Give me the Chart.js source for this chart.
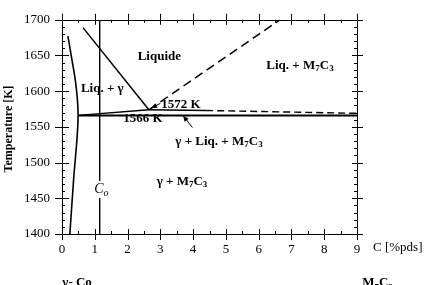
<!DOCTYPE html>
<html>
<head>
<meta charset="utf-8">
<script src="https://cdn.jsdelivr.net/npm/chart.js@4"></script>
<style>
  html, body { margin: 0; background: #fff; }
</style>
</head>
<body>
<canvas id="chart" width="437" height="285"></canvas>
<script>
const FONT = '"Liberation Serif", "DejaVu Serif", serif';

/* axes */
const xMin = 0, xMax = 9;
const tMin = 1400, tMax = 1700;

/* phase boundaries (C in %pds, T in K) */
const gammaSolvusC = [0.18, 0.30, 0.41, 0.47, 0.49, 0.46, 0.36, 0.24];
const gammaSolvusT = [1677, 1645, 1614, 1588, 1566, 1535, 1480, 1400];
const gammaLiquidusC = [0.64, 2.65];
const gammaLiquidusT = [1689, 1574];
const carbideLiquidusC = [2.65, 6.65];
const carbideLiquidusT = [1574, 1700];
const eutecticC = [0.49, 9];
const eutecticT = [1566, 1566];
const tieC = [0.49, 2.65];
const tieT = [1566, 1574];
const upperC = [2.65, 4.4, 9];
const upperT = [1574, 1573, 1569];
const coC = [1.15, 1.15];
const coT = [1400, 1700];

/* pointer arrows (tail -> head) */
const pointer1C = [3.98, 3.69];
const pointer1T = [1549, 1566];
const pointer2C = [3.0, 2.72];
const pointer2T = [1583, 1576];

/* region labels, "_x" = subscript */
const regionLabels = ["Liquide", "Liq. + \u03b3", "Liq. + M_7C_3", "1572 K", "1566 K", "\u03b3 + Liq. + M_7C_3", "\u03b3 + M_7C_3"];
const regionC = [2.97, 1.23, 7.26, 3.63, 2.47, 4.79, 3.66];
const regionT = [1648, 1604, 1636, 1581, 1561, 1530, 1474];

/* bottom phase names */
const phaseNames = ["\u03b3- Co", "M_7C_3"];
const phaseC = [0.46, 9.63];

function pts(cs, ts) {
  return cs.map((c, i) => ({ x: c, y: ts[i] }));
}

function line(cs, ts, width, dash) {
  return {
    data: pts(cs, ts),
    showLine: true,
    borderColor: "#000",
    borderWidth: width,
    borderDash: dash || [],
    pointRadius: 0,
    fill: false,
    tension: 0
  };
}

const solvus = line(gammaSolvusC, gammaSolvusT, 1.6);
solvus.tension = 0.35;

const upper = line(upperC, upperT, 1.4);
upper.segment = { borderDash: c => c.p0DataIndex === 0 ? [] : [7, 4] };

const datasets = [
  solvus,
  line(gammaLiquidusC, gammaLiquidusT, 1.5),
  line(carbideLiquidusC, carbideLiquidusT, 1.5, [9, 5]),
  line(eutecticC, eutecticT, 2),
  line(tieC, tieT, 1.3),
  upper,
  line(coC, coT, 1.4),
  line(pointer1C, pointer1T, 1),
  line(pointer2C, pointer2T, 1)
];
const arrowSets = [7, 8];

function parseRich(str) {
  const parts = [];
  let i = 0;
  while (i < str.length) {
    if (str[i] === "_") {
      parts.push({ t: str[i + 1], sub: true });
      i += 2;
    } else {
      let j = i;
      while (j < str.length && str[j] !== "_") j++;
      parts.push({ t: str.slice(i, j), sub: false });
      i = j;
    }
  }
  return parts;
}

function richText(ctx, str, x, y, size, style) {
  const parts = parseRich(str);
  const fMain = `${style} ${size}px ${FONT}`;
  const fSub = `${style} ${Math.round(size * 0.72)}px ${FONT}`;
  let w = 0;
  parts.forEach(p => {
    ctx.font = p.sub ? fSub : fMain;
    p.w = ctx.measureText(p.t).width;
    w += p.w;
  });
  let cx = x - w / 2;
  ctx.textAlign = "left";
  parts.forEach(p => {
    ctx.font = p.sub ? fSub : fMain;
    ctx.fillText(p.t, cx, p.sub ? y + size * 0.28 : y);
    cx += p.w;
  });
  return w;
}

const decor = {
  id: "decor",
  afterDatasetsDraw(chart) {
    const ctx = chart.ctx;
    const a = chart.chartArea;
    const xs = chart.scales.x, ys = chart.scales.y;
    ctx.save();
    ctx.fillStyle = "#000";
    ctx.strokeStyle = "#000";

    // arrow heads
    arrowSets.forEach(di => {
      const p = chart.getDatasetMeta(di).data;
      const h = p[p.length - 1], t = p[p.length - 2];
      const ang = Math.atan2(h.y - t.y, h.x - t.x);
      ctx.beginPath();
      ctx.moveTo(h.x, h.y);
      ctx.lineTo(h.x - 6 * Math.cos(ang) + 2.5 * Math.sin(ang), h.y - 6 * Math.sin(ang) - 2.5 * Math.cos(ang));
      ctx.lineTo(h.x - 6 * Math.cos(ang) - 2.5 * Math.sin(ang), h.y - 6 * Math.sin(ang) + 2.5 * Math.cos(ang));
      ctx.closePath();
      ctx.fill();
    });

    // frame
    ctx.lineWidth = 1;
    ctx.strokeRect(Math.round(a.left) + 0.5, Math.round(a.top) + 0.5,
      Math.round(a.right - a.left), Math.round(a.bottom - a.top));

    // ticks on all four sides
    ctx.beginPath();
    for (let v = xMin; v <= xMax + 1e-9; v += 0.5) {
      const px = Math.round(xs.getPixelForValue(v)) + 0.5;
      const major = Math.abs(v - Math.round(v)) < 1e-9;
      ctx.moveTo(px, a.bottom - (major ? 5 : 3));
      ctx.lineTo(px, a.bottom + (major ? 6 : 0));
      ctx.moveTo(px, a.top - (major ? 6 : 0));
      ctx.lineTo(px, a.top + (major ? 5 : 3));
    }
    for (let t = tMin; t <= tMax; t += 10) {
      const py = Math.round(ys.getPixelForValue(t)) + 0.5;
      const major = t % 50 === 0;
      ctx.moveTo(a.left - (major ? 7 : 0), py);
      ctx.lineTo(a.left + (major ? 7 : 3), py);
      ctx.moveTo(a.right - (major ? 5 : 3), py);
      ctx.lineTo(a.right + (major ? 6 : 0), py);
    }
    ctx.stroke();

    // region labels
    ctx.textBaseline = "middle";
    regionLabels.forEach((s, i) => {
      richText(ctx, s, xs.getPixelForValue(regionC[i]), ys.getPixelForValue(regionT[i]), 13, "bold");
    });

    // C_o label over the vertical line
    const coX = xs.getPixelForValue(1.2), coY = ys.getPixelForValue(1463);
    ctx.fillStyle = "#fff";
    ctx.fillRect(coX - 9, coY - 8, 18, 17);
    ctx.fillStyle = "#000";
    richText(ctx, "C_o", coX, coY, 14, "italic");

    // axis titles
    ctx.font = `13px ${FONT}`;
    ctx.textAlign = "left";
    ctx.textBaseline = "middle";
    ctx.fillText("C [%pds]", a.right + 16, a.bottom + 14);

    ctx.save();
    ctx.translate(9, (a.top + a.bottom) / 2 + 2);
    ctx.rotate(-Math.PI / 2);
    ctx.font = `bold 12px ${FONT}`;
    ctx.textAlign = "center";
    ctx.fillText("Temperature [K]", 0, 0);
    ctx.restore();

    // phase names under the axis (cut by the edge)
    ctx.textBaseline = "alphabetic";
    phaseNames.forEach((s, i) => {
      richText(ctx, s, xs.getPixelForValue(phaseC[i]), a.bottom + 52, 13, "bold");
    });
    ctx.restore();
  }
};

new Chart(document.getElementById("chart"), {
  type: "scatter",
  data: { datasets },
  options: {
    responsive: false,
    animation: false,
    devicePixelRatio: 1,
    layout: { padding: { left: 0, right: 80, top: 15, bottom: 0 } },
    plugins: { legend: { display: false }, tooltip: { enabled: false } },
    scales: {
      x: {
        type: "linear",
        min: xMin, max: xMax,
        grid: { display: false, drawTicks: false },
        border: { display: false },
        ticks: { stepSize: 1, padding: 8, color: "#000", font: { family: FONT, size: 13 } },
        afterFit: s => { s.height = 51; }
      },
      y: {
        type: "linear",
        min: tMin, max: tMax,
        grid: { display: false, drawTicks: false },
        border: { display: false },
        ticks: { stepSize: 50, padding: 12, color: "#000", font: { family: FONT, size: 13 },
          callback: v => String(v) },
        afterFit: s => { s.width = 62; }
      }
    }
  },
  plugins: [decor]
});
</script>
</body>
</html>
